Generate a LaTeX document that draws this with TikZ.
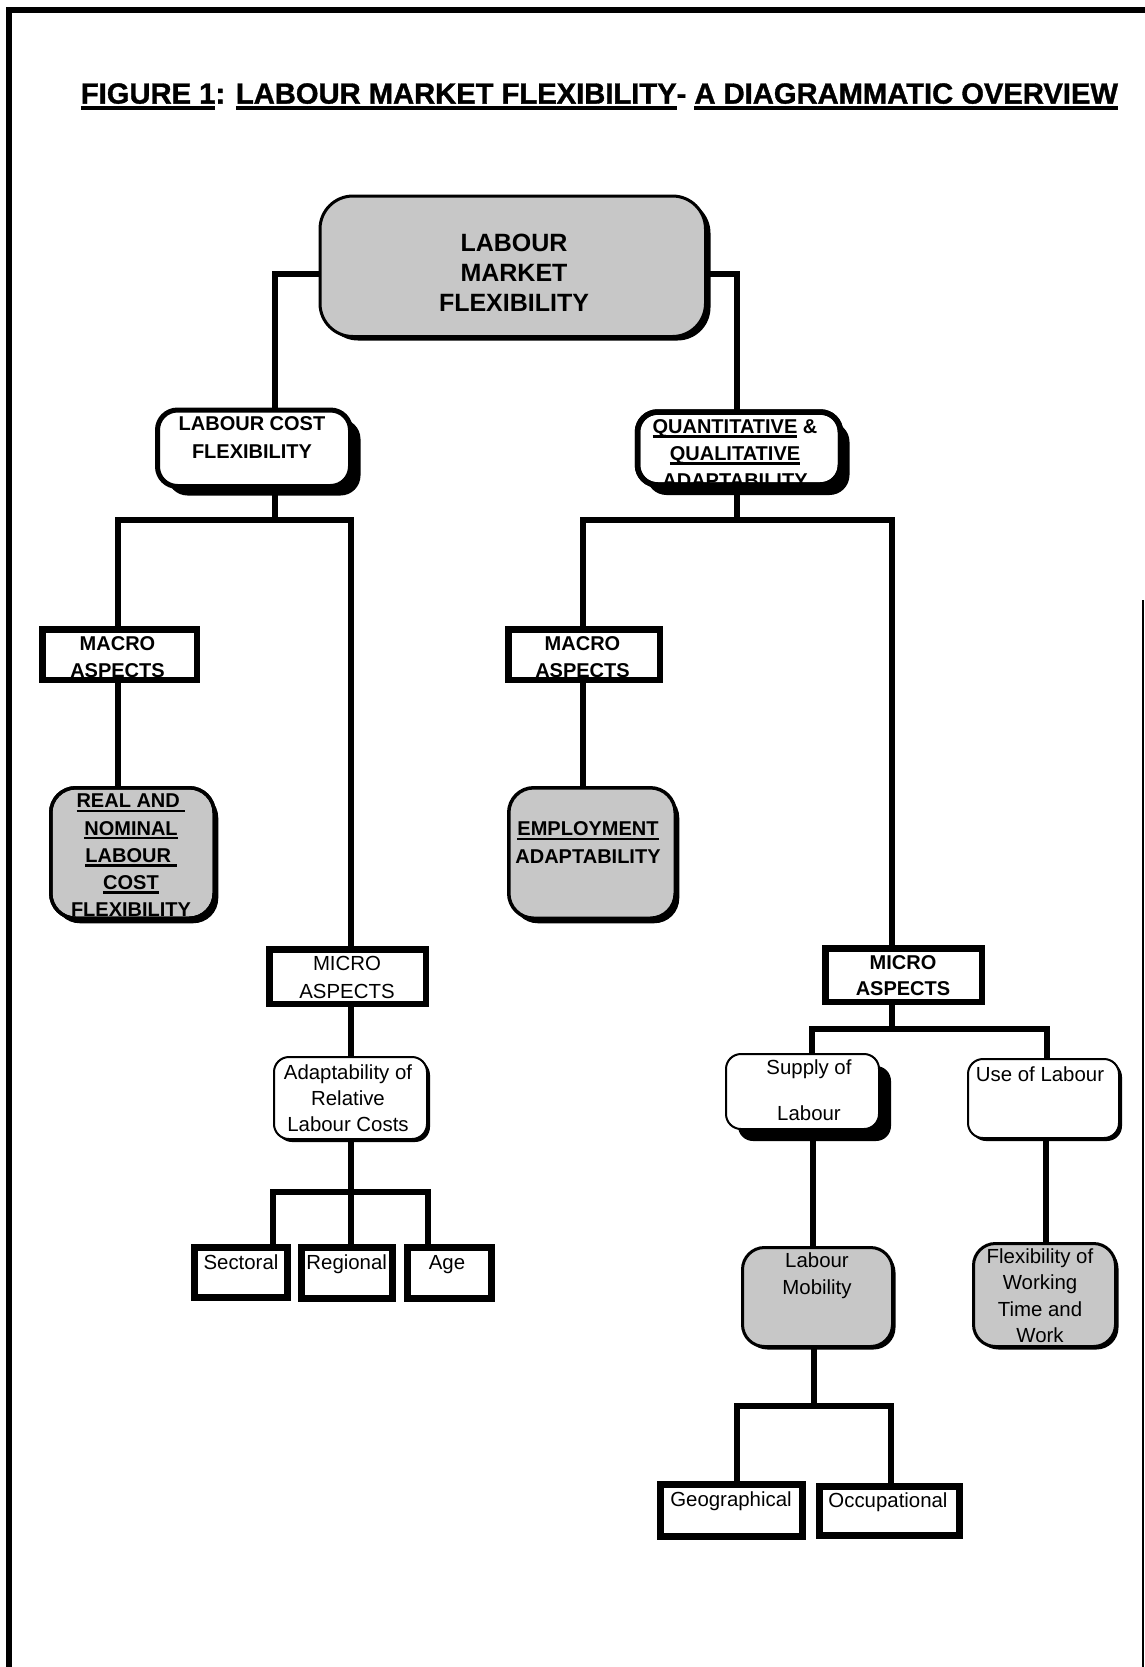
\documentclass[tikz,border=0pt]{standalone}
\usepackage{graphicx}
\usepackage{fontspec}
\setmainfont{Liberation Sans}
\newfontfamily\titlefont{Liberation Sans}[BoldFeatures={FakeBold=1.2}]
\usetikzlibrary{calc,shadows}
\pgfdeclarelayer{bg}
\pgfsetlayers{bg,main}
\newsavebox{\ulbox}
\newcommand{\bul}[1]{\sbox{\ulbox}{#1}\rlap{\rule[-2.2pt]{\wd\ulbox}{1.35pt}}\usebox{\ulbox}}
\newcommand{\tul}[1]{\sbox{\ulbox}{#1}\rlap{\rule[-3.4pt]{\wd\ulbox}{2.1pt}}\usebox{\ulbox}}
\tikzset{
  conn/.style={line width=3pt},
  bx/.style={draw, fill=white, inner sep=0pt, outer sep=0pt, rectangle},
  greyfill/.style={fill=black!22},
  shad/.style 2 args={drop shadow={shadow xshift=#1, shadow yshift=#2, fill=black, opacity=1}},
  sz/.style 2 args={minimum width=#1*0.5pt, minimum height=#2*0.5pt},
  aspect/.style={bx, line width=3.25pt},
  leaf/.style={bx, line width=3.5pt},
  tb/.style={inner sep=0pt, outer sep=0pt, align=center, font=\fontsize{10pt}{#1}\selectfont\bfseries},
  tr/.style={inner sep=0pt, outer sep=0pt, align=center, font=\fontsize{10.2pt}{#1}\selectfont},
}
\begin{document}
\begin{tikzpicture}[x=0.5pt,y=-0.5pt]
\useasboundingbox (0,0) rectangle (1145,1667);
% frame
\draw[line width=3pt] (9,1667) -- (9,10) -- (1145,10);
\draw[line width=1pt] (1143,600) -- (1143,1667);
% title
\node[anchor=base west, inner sep=0pt] (title) at (80.5,103.6)
  {\resizebox{518.5pt}{!}{\fontsize{14.5pt}{17pt}\titlefont\bfseries
   \tul{FIGURE 1}: \tul{LABOUR MARKET FLEXIBILITY}- \tul{A DIAGRAMMATIC OVERVIEW}}};

% boxes
\node[bx, greyfill, line width=1.5pt, rounded corners=16.5pt, sz={385.5}{140.5}, shad={2.5pt}{-2pt}] (lmf) at (512.75,266.25) {};
\node[bx, line width=2.5pt, rounded corners=10pt, sz={193}{76.5}, shad={5pt}{-4.5pt}] (lcf) at (254,448.25) {};
\node[bx, line width=2.75pt, rounded corners=10pt, sz={203}{73}, shad={4.5pt}{-5pt}] (qqa) at (739,448.5) {};
\node[aspect, sz={154.5}{50.5}] (macL) at (119.5,654.5) {};
\node[aspect, sz={151.5}{50.5}] (macR) at (584,654.5) {};
\node[bx, greyfill, line width=1.75pt, rounded corners=12.5pt, sz={163.5}{130.5}, shad={2pt}{-2.5pt}] (realbox) at (132.5,853) {};
\node[bx, greyfill, line width=1.75pt, rounded corners=12.5pt, sz={166.5}{130.5}, shad={2pt}{-2.5pt}] (emp) at (592,853) {};
\node[aspect, sz={156.5}{54.5}] (micL) at (347.5,976.5) {};
\node[bx, line width=1pt, rounded corners=7.5pt, sz={153}{82}, shad={1.5pt}{-1.5pt}] (adapt) at (350.5,1098) {};
\node[leaf, sz={93}{50}] (sect) at (241,1272.5) {};
\node[leaf, sz={91}{51}] (reg) at (347,1273) {};
\node[leaf, sz={84}{51}] (age) at (449.5,1273) {};
\node[aspect, sz={156.5}{53.5}] (micR) at (903.5,975) {};
\node[bx, line width=1pt, rounded corners=7.5pt, sz={153}{75}, shad={6pt}{-6pt}] (supply) at (802.5,1091.5) {};
\node[bx, line width=1pt, rounded corners=7.5pt, sz={151}{79}, shad={1.5pt}{-1.5pt}] (use) at (1043.5,1098.5) {};
\node[bx, greyfill, line width=1.5pt, rounded corners=11pt, sz={150}{99}, shad={1.5pt}{-1.5pt}] (mobility) at (817.5,1297) {};
\node[bx, greyfill, line width=1.5pt, rounded corners=11pt, sz={142}{103}, shad={1.5pt}{-1.5pt}] (flex) at (1044.5,1295) {};
\node[leaf, sz={142}{52}] (geo) at (731.5,1510.5) {};
\node[leaf, sz={140}{49}] (occ) at (889.5,1511) {};

% texts
\node[inner sep=0pt, align=center, font=\fontsize{12.5pt}{14.85pt}\selectfont\bfseries] (tlmf) at (514,272.7) {LABOUR\\MARKET\\FLEXIBILITY};
\node[tb=14pt] (tlcf) at (252,438) {LABOUR COST\\FLEXIBILITY};
\node[tb=13.5pt] (tqqa) at (735,453.5) {\bul{QUANTITATIVE} \&\\\bul{QUALITATIVE}\\ADAPTABILITY};
\node[tb=13.5pt] (tmacL) at (117.5,657.5) {MACRO\\ASPECTS};
\node[tb=13.5pt] (tmacR) at (582.5,657.5) {MACRO\\ASPECTS};
\node[tb=13.6pt] (treal) at (131,857.6) {\bul{REAL AND\ }\\\bul{NOMINAL}\\\bul{LABOUR\ }\\\bul{COST}\\\bul{FLEXIBILITY}};
\node[tb=14pt] (temp) at (588,843) {\bul{EMPLOYMENT}\\ADAPTABILITY};
\node[tr=14pt] (tmicL) at (347,977) {MICRO\\ASPECTS};
\node[tr=13pt] (tadapt) at (348,1098) {Adaptability of\\Relative\\Labour Costs};
\node[tr=12pt] (tsect) at (241,1262) {Sectoral};
\node[tr=12pt] (treg) at (346.7,1264) {Regional};
\node[tr=12pt] (tage) at (447,1265) {Age};
\node[tb=13pt] (tmicR) at (903,976) {MICRO\\ASPECTS};
\node[tr=23pt] (tsupply) at (809,1090) {Supply of\\Labour};
\node[tr=12pt] (tuse) at (1040,1074) {Use of Labour};
\node[tr=13.5pt] (tmob) at (817,1275.5) {Labour\\Mobility};
\node[tr=13.2pt] (tflex) at (1040,1295.5) {Flexibility of\\Working\\Time and\\Work};
\node[tr=12pt] (tgeo) at (731,1501) {Geographical};
\node[tr=12pt] (tocc) at (888,1502) {Occupational};

% borders drawn over clipped text
\draw[line width=2.75pt, rounded corners=10pt] (qqa.south west) rectangle (qqa.north east);
\draw[line width=3.25pt] (macL.south west) rectangle (macL.north east);
\draw[line width=3.25pt] (macR.south west) rectangle (macR.north east);
\draw[line width=1.75pt, rounded corners=12.5pt] (realbox.south west) rectangle (realbox.north east);

% connectors
\begin{pgfonlayer}{bg}
\draw[conn] ($(lmf.west)+(0,7.75)$) -| ($(lcf.north)+(21,0)$);
\draw[conn] ($(lmf.east)+(0,7.75)$) -| ($(qqa.north)+(-2.5,0)$);
\coordinate (j1) at (275,520);
\draw[conn] ($(lcf.south)+(21,0)$) -- (j1);
\draw[conn] ($(macL.north)+(-1.5,0)$) |- (j1) -| ($(micL.north)+(3.5,0)$);
\coordinate (j2) at (736.5,520);
\draw[conn] ($(qqa.south)+(-2.5,0)$) -- (j2);
\draw[conn] ($(macR.north)+(-1,0)$) |- (j2) -| ($(micR.north)+(-12,0)$);
\draw[conn] ($(macL.south)+(-1.5,0)$) -- ($(realbox.north)+(-14.5,0)$);
\draw[conn] ($(macR.south)+(-1,0)$) -- ($(emp.north)+(-9,0)$);
\draw[conn] ($(micL.south)+(3.5,0)$) -- ($(adapt.north)+(0.5,0)$);
\coordinate (j3) at (351,1191.5);
\draw[conn] ($(adapt.south)+(0.5,0)$) -- (j3);
\draw[conn] ($(sect.north)+(32,0)$) |- (j3) -| ($(age.north)+(-21.5,0)$);
\draw[conn] (j3) -- ($(reg.north)+(4,0)$);
\coordinate (j4) at (891.5,1029);
\draw[conn] ($(micR.south)+(-12,0)$) -- (j4);
\draw[conn] ($(supply.north)+(9.5,0)$) |- (j4) -| ($(use.north)+(3.5,0)$);
\draw[conn] ($(supply.south)+(10.5,0)$) -- ($(mobility.north)+(-4.5,0)$);
\draw[conn] ($(use.south)+(2.5,0)$) -- ($(flex.north)+(1.5,0)$);
\coordinate (j5) at (814,1405.5);
\draw[conn] ($(mobility.south)+(-3.5,0)$) -- (j5);
\draw[conn] ($(geo.north)+(5.5,0)$) |- (j5) -| ($(occ.north)+(1.5,0)$);
\end{pgfonlayer}
\end{tikzpicture}
\end{document}
